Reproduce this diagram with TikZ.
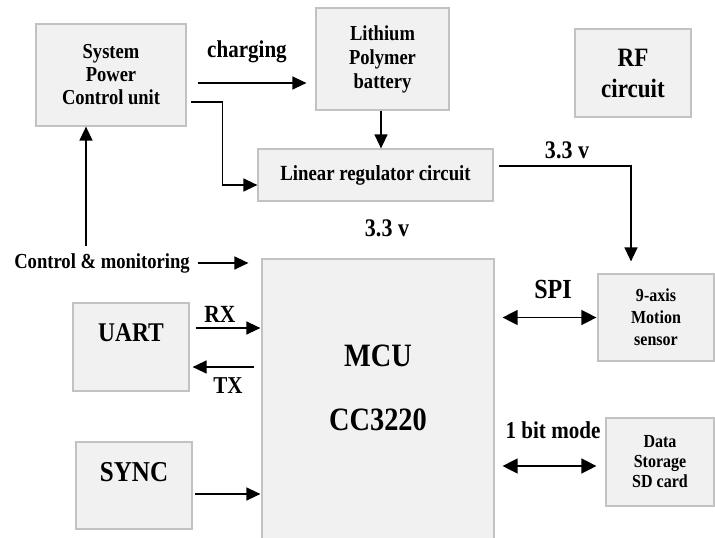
\documentclass[tikz,border=0pt]{standalone}
\usepackage{fontspec}
\setmainfont[FakeStretch=0.87]{Liberation Serif}
\usetikzlibrary{arrows.meta}
\definecolor{boxfill}{HTML}{F1F1F1}
\definecolor{boxline}{HTML}{C2C2C2}
\newcommand{\fs}[2]{\bfseries\fontsize{#1}{#2}\selectfont}
\begin{document}
\begin{tikzpicture}[x=1pt,y=-1pt,
  box/.style={draw=boxline, fill=boxfill, line width=1.2pt, inner sep=0pt, align=center},
  arr/.style={line width=1.4pt, -{Triangle[length=14pt,width=13pt]}},
  darr/.style={line width=1.4pt, {Triangle[length=15pt,width=15pt]}-{Triangle[length=15pt,width=15pt]}},
  lbl/.style={inner sep=0pt, align=center}]
\clip (0,0) rectangle (715,538);
\fill[white] (0,0) rectangle (715,538);

% boxes
\node[box, minimum width=150pt, minimum height=102pt, font=\fs{21.3}{23}] (spcu) at (111,75) {System\\Power\\Control unit};
\node[box, minimum width=133pt, minimum height=102pt, font=\fs{21.3}{24}] (batt) at (382.5,59) {Lithium\\Polymer\\battery};
\node[box, minimum width=116pt, minimum height=88pt, font=\fs{26.5}{31}] (rf) at (633,73) {RF\\circuit};
\node[box, minimum width=235pt, minimum height=52pt, font=\fs{21.6}{23}] (reg) at (375.5,175) {Linear regulator circuit};
\node[box, minimum width=232pt, minimum height=286pt] (mcu) at (378,402) {};
\node[box, minimum width=116pt, minimum height=88pt] (uart) at (131,347) {};
\node[box, minimum width=116pt, minimum height=87pt] (sync) at (134,485.5) {};
\node[box, minimum width=116pt, minimum height=87pt, font=\fs{18.4}{22}] (imu) at (656,317.5) {9-axis\\Motion\\sensor};
\node[box, minimum width=108pt, minimum height=88pt, font=\fs{18.4}{20}] (sd) at (660,462) {Data\\Storage\\SD card};

% texts inside large boxes
\node[lbl, font=\fs{32.6}{34}] (mcut) at (378,355.5) {MCU};
\node[lbl, font=\fs{32.6}{34}] (cct) at (378,420) {CC3220};
\node[lbl, font=\fs{27}{30}] (uartt) at (131,333) {UART};
\node[lbl, font=\fs{28.8}{31}] (synct) at (134,472) {SYNC};

% labels
\node[lbl, font=\fs{24.2}{26}] (chg) at (247,52) {charging};
\node[lbl, font=\fs{25.3}{27}] (v1) at (567,150) {3.3 v};
\node[lbl, font=\fs{25.3}{27}] (v2) at (387,228) {3.3 v};
\node[lbl, font=\fs{21.4}{24}] (cm) at (102,263) {Control \& monitoring};
\node[lbl, font=\fs{24.7}{27}] (rx) at (220,314) {RX};
\node[lbl, font=\fs{24.2}{27}] (tx) at (228,386) {TX};
\node[lbl, font=\fs{27.6}{30}] (spi) at (553,289) {SPI};
\node[lbl, font=\fs{24.2}{27}] (bit) at (553,430) {1 bit mode};

% connectors
\draw[arr, shorten <=11pt, shorten >=9pt] ([yshift=-8pt]spcu.east) -- ([yshift=-8pt]spcu.east -| batt.west);
\draw[arr] ([xshift=4pt,yshift=-27pt]spcu.east) -- ++(32,0) |- ([yshift=-10pt]reg.west);
\draw[arr] ([xshift=-1.5pt]batt.south) -- ([xshift=-1.5pt]batt.south |- reg.north);
\draw[arr, shorten >=12pt] ([xshift=5pt,yshift=9pt]reg.east) -| ([xshift=-25pt]imu.north);
\draw[arr] ([xshift=-16pt,yshift=7pt]cm.north) -- ([xshift=-25pt]spcu.south);
\draw[arr, shorten >=13pt] ([xshift=8pt]cm.east) -- (cm.east -| mcu.west);
\draw[arr, shorten <=6pt, shorten >=1pt] ([yshift=19pt]uart.east) -- ([yshift=19pt]uart.east -| mcu.west);
\draw[arr, shorten <=7pt, shorten >=3pt] ([yshift=-20pt]uart.east -| mcu.west) -- ([yshift=-20pt]uart.east);
\draw[arr, shorten <=2pt, shorten >=1pt] ([yshift=-8.5pt]sync.east) -- ([yshift=-8.5pt]sync.east -| mcu.west);
\draw[darr, shorten <=8pt, shorten >=1pt] (imu.west -| mcu.east) -- (imu.west);
\draw[darr, shorten <=8pt, shorten >=9pt] ([yshift=-4pt]sd.west -| mcu.east) -- ([yshift=-4pt]sd.west);
\end{tikzpicture}
\end{document}
